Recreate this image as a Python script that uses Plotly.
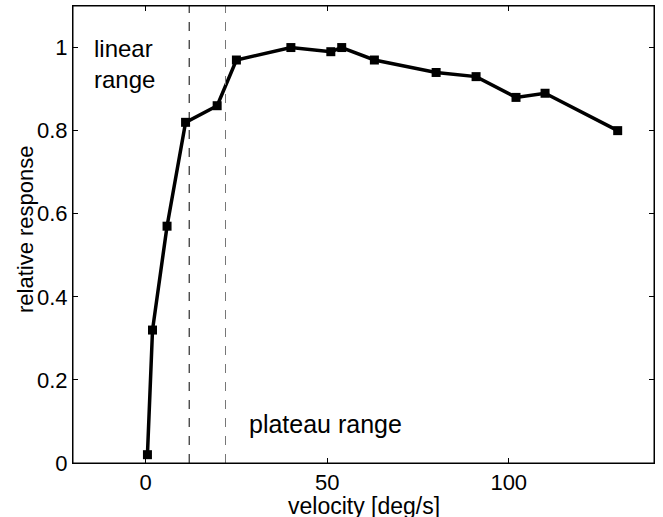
import plotly.graph_objects as go

velocity = [0.5, 1.9, 5.9, 11, 19.7, 25, 40, 51, 54, 63, 80, 91, 102, 110, 130]
response = [0.02, 0.32, 0.57, 0.82, 0.86, 0.97, 1.0, 0.99, 1.0, 0.97, 0.94, 0.93, 0.88, 0.89, 0.80]
boundaries = [12, 22]
boundary_colors = ["black", "#777777"]
x_ticks = [0, 50, 100]
y_ticks = [0, 0.2, 0.4, 0.6, 0.8, 1]
y_tick_labels = ["0", "0.2", "0.4", "0.6", "0.8", "1"]
x_title = "velocity [deg/s]"
y_title = "relative response"

font = "Liberation Sans, Arial, Helvetica, sans-serif"

fig = go.Figure()
fig.add_trace(go.Scatter(
    x=velocity, y=response, mode="lines+markers",
    line=dict(color="black", width=3.5),
    marker=dict(symbol="square", size=9, color="black"),
    showlegend=False, hoverinfo="skip",
))

for b, c in zip(boundaries, boundary_colors):
    fig.add_shape(type="line", x0=b, x1=b, y0=0, y1=1.1, xref="x", yref="y",
                  line=dict(color=c, width=1, dash="dash"))

# plot frame
fig.add_shape(type="rect", x0=0, x1=1, y0=0, y1=1, xref="paper", yref="paper",
              line=dict(color="black", width=1), layer="above")

fig.add_annotation(x=-14.9, y=0.96, xref="x", yref="y", text="linear<br>range",
                   showarrow=False, xanchor="left", yanchor="middle", align="left",
                   font=dict(family=font, size=24, color="black"))
fig.add_annotation(x=28.0, y=0.095, xref="x", yref="y", text="plateau range",
                   showarrow=False, xanchor="left", yanchor="middle", align="left",
                   font=dict(family=font, size=25, color="black"))

# axis titles
fig.add_annotation(x=0.5, y=-0.093, xref="paper", yref="paper", text=x_title,
                   showarrow=False, xanchor="center", yanchor="middle",
                   font=dict(family=font, size=23, color="black"))
fig.add_annotation(x=-0.0826, y=0.512, xref="paper", yref="paper", text=y_title,
                   showarrow=False, xanchor="center", yanchor="middle", textangle=-90,
                   font=dict(family=font, size=22, color="black"))

axis_common = dict(
    showline=True, linecolor="black", linewidth=1, mirror="ticks",
    ticks="inside", ticklen=5, tickcolor="black", showgrid=False, zeroline=False,
    tickfont=dict(family=font, size=22, color="black"), automargin=False,
)

fig.update_xaxes(range=[-20, 140], tickvals=x_ticks, ticktext=[str(t) for t in x_ticks],
                 **axis_common)
fig.update_yaxes(range=[0, 1.1], tickvals=y_ticks, ticktext=y_tick_labels,
                 **axis_common)

fig.update_layout(
    width=663, height=517,
    margin=dict(l=73, r=9, t=6, b=54),
    paper_bgcolor="white", plot_bgcolor="white",
)

fig.write_html("out.html", config={"displayModeBar": False},
               post_script="document.body.style.margin='0';document.body.style.overflow='hidden';")
